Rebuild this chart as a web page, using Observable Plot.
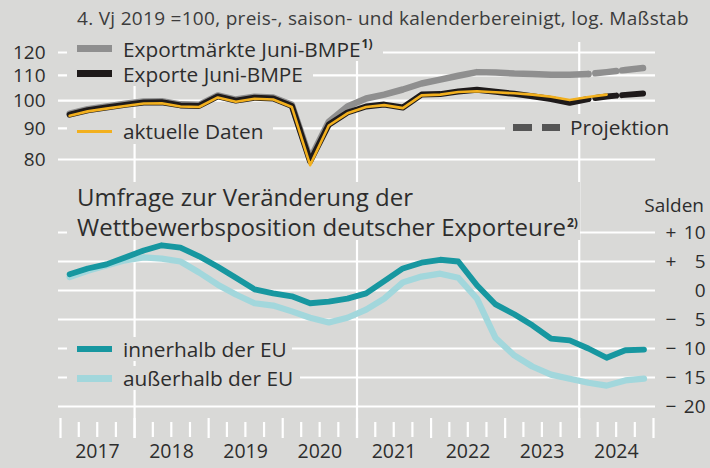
<!DOCTYPE html>
<html><head><meta charset="utf-8">
<script src="https://cdn.jsdelivr.net/npm/d3@7"></script>
<script src="https://cdn.jsdelivr.net/npm/@observablehq/plot@0.6"></script>
<style>
html,body{margin:0;padding:0;background:#d9d9d7;}
#wrap{position:relative;width:710px;height:468px;background:#d9d9d7;overflow:hidden;font-family:"Open Sans",sans-serif;color:#2d2d2d;}
#wrap svg{position:absolute;left:0;}
.lab{position:absolute;background:#d9d9d7;white-space:nowrap;display:flex;align-items:center;font-size:20.8px;line-height:22px;}
.sw{display:inline-block;width:35px;margin-left:10px;margin-right:11px;flex:none;}
sup{font-size:12px;font-weight:700;vertical-align:baseline;position:relative;top:-9px;line-height:0;margin-left:1px;}
</style>
</head><body><div id="wrap"></div>
<script>
// ---------- data ----------
const quarters = ["2017Q1","2017Q2","2017Q3","2017Q4","2018Q1","2018Q2","2018Q3","2018Q4",
  "2019Q1","2019Q2","2019Q3","2019Q4","2020Q1","2020Q2","2020Q3","2020Q4",
  "2021Q1","2021Q2","2021Q3","2021Q4","2022Q1","2022Q2","2022Q3","2022Q4",
  "2023Q1","2023Q2","2023Q3","2023Q4","2024Q1","2024Q2","2024Q3","2024Q4"];
// Exportmärkte Juni-BMPE (grey), 2017Q1-2024Q1
const exportMarkets = [95.2,96.8,97.8,98.8,99.7,99.8,98.6,98.4,102.0,100.4,101.5,101.2,98.4,80.2,92.3,97.8,
  100.8,102.3,104.3,106.7,108.3,109.9,111.4,111.2,110.8,110.6,110.3,110.3,110.6];
// Projektion Exportmärkte, 2024Q1-2024Q4
const exportMarketsProj = [110.6,111.4,112.3,113.2];
// Exporte Juni-BMPE (black), 2017Q1-2024Q1
const exports = [94.8,96.4,97.4,98.4,99.3,99.4,98.2,98.0,101.6,100.0,101.1,100.8,98.0,79.4,91.3,95.6,
  97.8,98.5,97.4,102.3,102.5,103.5,104.2,103.4,102.6,101.7,100.6,99.2,100.6];
// Projektion Exporte, 2024Q1-2024Q4
const exportsProj = [100.6,101.6,102.2,102.8];
// aktuelle Daten (yellow), 2017Q1-2024Q2
const currentData = [94.4,96.0,97.0,98.0,98.9,99.0,97.8,97.6,101.2,99.6,100.7,100.4,97.6,78.3,91.0,95.3,
  97.6,98.3,97.2,102.0,102.3,103.3,103.6,103.2,102.8,102.3,101.5,100.2,101.4,102.3];
// Umfrage Wettbewerbsposition, Salden, 2017Q1-2024Q4
const insideEU = [2.8,3.8,4.5,5.7,6.9,7.8,7.4,5.9,4.1,2.2,0.2,-0.5,-1.0,-2.2,-1.9,-1.4,
  -0.5,1.6,3.8,4.8,5.3,5.0,0.9,-2.4,-4.1,-6.0,-8.3,-8.6,-10.0,-11.6,-10.3,-10.2];
const outsideEU = [2.3,3.4,4.3,5.2,5.7,5.5,5.0,3.1,1.0,-0.7,-2.2,-2.6,-3.6,-4.7,-5.5,-4.7,
  -3.3,-1.4,1.4,2.4,2.9,2.2,-1.4,-8.2,-11.2,-13.1,-14.5,-15.2,-15.9,-16.4,-15.5,-15.2];
const topTicks = [80,90,100,110,120];
const bottomTicks = [10,5,0,-5,-10,-15,-20];
const years = [2017,2018,2019,2020,2021,2022,2023,2024];
const gridYears = [2018,2021,2024];

// ---------- helpers ----------
const qDate = q => new Date(+q.slice(0,4), (+q.slice(5)-1)*3 + 1, 15);
const dates = quarters.map(qDate);
const topActual = exports.map((v,i)=>({date:dates[i], markets:exportMarkets[i], exports:v}));
const topProj = exportsProj.map((v,i)=>({date:dates[28+i], markets:exportMarketsProj[i], exports:v}));
const topCurrent = currentData.map((v,i)=>({date:dates[i], value:v}));
const survey = quarters.map((q,i)=>({date:dates[i], inside:insideEU[i], outside:outsideEU[i]}));
const yearStarts = [...years, 2025].map(y=>new Date(y,0,1));
const quarterBounds = years.flatMap(y=>[3,6,9].map(m=>new Date(y,m,1)));
const yearMids = years.map(y=>({date:new Date(y,6,2), label:String(y)}));

const FONT = '"Open Sans", sans-serif';
const TXT = "#2d2d2d";
const xScale = {type:"time", domain:[new Date(2017,0,1), new Date(2025,0,1)], range:[60,653], axis:null};
const grid = {stroke:"#ffffff", strokeWidth:2.2};
const dash = "0,7,21,6,21,6";

const topPlot = Plot.plot({
  width:710, height:170, marginTop:42, marginBottom:0, marginLeft:58, marginRight:55,
  style:{background:"transparent", fontFamily:FONT, color:TXT, overflow:"visible"},
  x:xScale,
  y:{type:"log", domain:[80,120], range:[159,52], axis:null},
  marks:[
    Plot.ruleY(topTicks, grid),
    Plot.ruleX(gridYears.map(y=>new Date(y,0,1)), grid),
    Plot.text(topTicks, {y:d=>d, text:d=>String(d), frameAnchor:"left", dx:-13, textAnchor:"end", fontSize:19, fill:TXT}),
    Plot.line(topActual, {x:"date", y:"markets", stroke:"#8f8f8f", strokeWidth:6.5, strokeLinejoin:"round"}),
    Plot.line(topProj, {x:"date", y:"markets", stroke:"#8f8f8f", strokeWidth:6.5, strokeDasharray:dash}),
    Plot.line(topActual, {x:"date", y:"exports", stroke:"#1e1a1a", strokeWidth:6, strokeLinejoin:"round"}),
    Plot.line(topProj, {x:"date", y:"exports", stroke:"#1e1a1a", strokeWidth:6, strokeDasharray:dash}),
    Plot.line(topCurrent, {x:"date", y:"value", stroke:"#f2b01e", strokeWidth:2.6, strokeLinejoin:"round"})
  ]
});
topPlot.style.top = "0px";

const botPlot = Plot.plot({
  width:710, height:298, marginTop:0, marginBottom:30, marginLeft:58, marginRight:55,
  style:{background:"transparent", fontFamily:FONT, color:TXT, overflow:"visible"},
  x:xScale,
  y:{domain:[-20,10], range:[236,62], axis:null},
  marks:[
    Plot.ruleY(bottomTicks, grid),
    Plot.ruleX(gridYears.map(y=>new Date(y,0,1)), grid),
    Plot.ruleX(yearStarts, {...grid, insetTop:248}),
    Plot.ruleX(quarterBounds, {...grid, insetTop:252, insetBottom:1}),
    Plot.text(yearMids, {x:"date", text:"label", frameAnchor:"bottom", dy:19, fontSize:19.5, fill:TXT}),
    Plot.text(bottomTicks, {y:d=>d, text:d=>String(Math.abs(d)), frameAnchor:"right", dx:50, textAnchor:"end", fontSize:19, fill:TXT}),
    Plot.text(bottomTicks.filter(d=>d!==0), {y:d=>d, text:d=>d>0?"+":"\u2212", frameAnchor:"right", dx:10, textAnchor:"start", fontSize:19, fill:TXT}),
    Plot.line(survey, {x:"date", y:"outside", stroke:"#a2d7dc", strokeWidth:6.2, strokeLinejoin:"round"}),
    Plot.line(survey, {x:"date", y:"inside", stroke:"#1797a0", strokeWidth:5.8, strokeLinejoin:"round"})
  ]
});
botPlot.style.top = "170px";

const wrap = document.getElementById("wrap");
wrap.appendChild(topPlot);
wrap.appendChild(botPlot);

function label(html, css){
  const d = document.createElement("div");
  d.className = "lab";
  d.innerHTML = html;
  Object.assign(d.style, css);
  wrap.appendChild(d);
}
const sw = (color, h) => `<span class="sw" style="height:${h}px;background:${color}"></span>`;

label("4. Vj 2019 =100, preis-, saison- und kalenderbereinigt, log. Maßstab",
  {left:"77px", top:"5px", height:"26px", fontSize:"19px", letterSpacing:"0.3px", color:"#3c3c3c", background:"transparent"});
label(sw("#8f8f8f",7)+"<span>Exportmärkte Juni-BMPE<sup>1)</sup></span>", {left:"67px", top:"36px", width:"316px", height:"25px"});
label(sw("#1e1a1a",7)+"<span>Exporte Juni-BMPE</span>", {left:"67px", top:"61px", width:"246px", height:"25px"});
label(sw("#f2b01e",3)+"<span>aktuelle Daten</span>", {left:"67px", top:"118px", width:"206px", height:"26px"});
label(`<span style="display:inline-block;width:19px;height:7px;background:#555;margin-left:8px"></span><span style="display:inline-block;width:18px;height:7px;background:#555;margin-left:10px;margin-right:10px"></span><span>Projektion</span>`,
  {left:"505px", top:"114px", width:"165px", height:"26px"});
label(`<div style="padding-left:10px;line-height:30px;font-size:24px">Umfrage zur Veränderung der<br>Wettbewerbsposition deutscher Exporteure<sup>2)</sup></div>`,
  {left:"67px", top:"182px", width:"513px", height:"58px", alignItems:"flex-start"});
label("Salden", {right:"6px", top:"193px", height:"24px", fontSize:"19px", background:"transparent"});
label(sw("#1797a0",6)+"<span>innerhalb der EU</span>", {left:"67px", top:"337px", width:"225px", height:"24px"});
label(sw("#a2d7dc",7)+"<span>außerhalb der EU</span>", {left:"67px", top:"366px", width:"233px", height:"24px"});
</script></body></html>
